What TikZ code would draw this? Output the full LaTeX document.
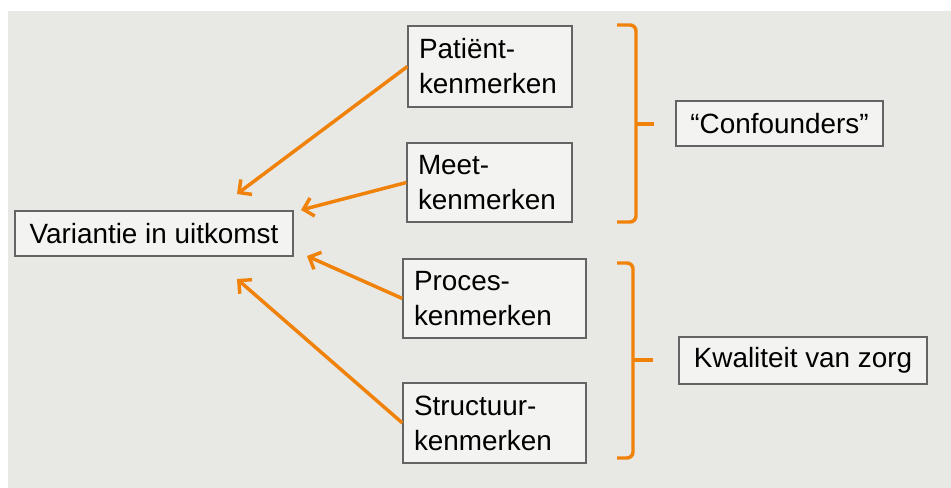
\documentclass[tikz,border=0pt]{standalone}
\usepackage{fontspec}
\setmainfont{Liberation Sans}
\usetikzlibrary{arrows.meta}
\definecolor{oranje}{RGB}{240,130,10}
\definecolor{achtergrond}{RGB}{232,232,228}
\definecolor{vakje}{RGB}{243,243,241}
\definecolor{rand}{RGB}{100,100,100}

\begin{document}
\begin{tikzpicture}[x=0.75pt,y=-0.75pt,
	vak/.style={draw=rand,fill=vakje,line width=0.9pt,inner xsep=8.25pt,font=\fontsize{20.9}{26.25}\selectfont},
	pijl/.style={draw=oranje,line width=2.6pt,-{Straight Barb[length=7pt,width=14pt]}},
	accolade/.style={draw=oranje,line width=2.6pt,rounded corners=4.5pt}]
		\useasboundingbox (0,0) rectangle (951,488);
		\fill[achtergrond] (8,11) rectangle (951,488);

		% Uitkomst
		\node[vak,minimum width=208.5pt,minimum height=33.75pt] (uitkomst) at (154,233.5) {Variantie in uitkomst};

		% Kenmerken
		\node[vak,align=left,text width=106.5pt,minimum height=60.75pt] (patient) at (490,66.5) {Patiënt-\\kenmerken};
		\node[vak,align=left,text width=107.25pt,minimum height=59.25pt] (meet) at (489.5,182.5) {Meet-\\kenmerken};
		\node[vak,align=left,text width=120.75pt,minimum height=59.25pt] (proces) at (494.5,298.5) {Proces-\\kenmerken};
		\node[vak,align=left,text width=120.75pt,minimum height=60pt] (structuur) at (494.5,423) {Structuur-\\kenmerken};

		% Groepen
		\node[vak,minimum width=155.25pt,minimum height=33.75pt] (confounders) at (779.5,123.5) {“Confounders”};
		\node[vak,minimum width=186pt,minimum height=35.25pt] (kwaliteit) at (803,360.5) {Kwaliteit van zorg};

		% Pijlpunten bij de uitkomst
		\coordinate (puntA) at (237,194);
		\coordinate (puntB) at (301,210);
		\coordinate (puntC) at (307,256);
		\coordinate (puntD) at (237,279);

		\foreach \bron/\punt in {patient/puntA,meet/puntB,proces/puntC,structuur/puntD}
			\draw[pijl] (\bron.west) -- (\punt);

		% Accolades
		\draw[accolade] (617,25) -- (636,25) -- (636,222) -- (617,222);
		\draw[accolade] (636,124) -- (654,124);
		\draw[accolade] (617,263) -- (633,263) -- (633,458) -- (617,458);
		\draw[accolade] (633,360) -- (653,360);

\end{tikzpicture}
\end{document}
